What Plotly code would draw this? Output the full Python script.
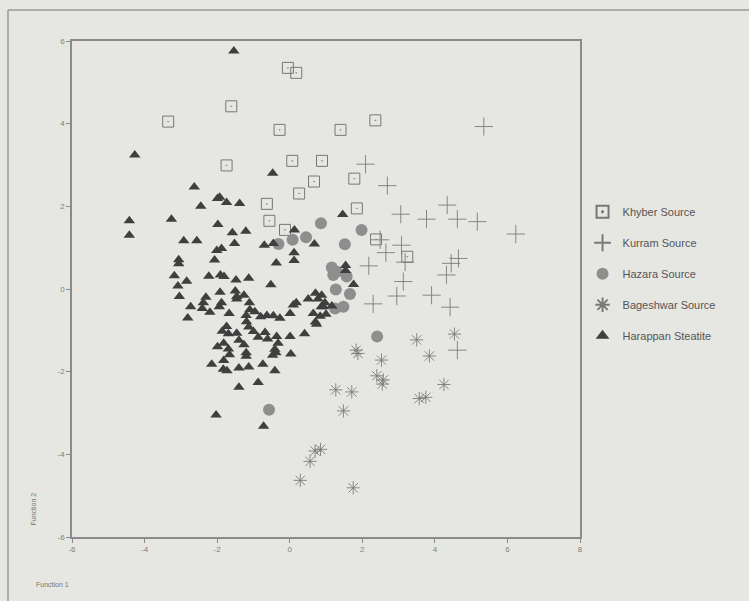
import plotly.graph_objects as go

# ---- data ----
khyber_x = [-0.05, 0.18, -1.61, -3.35, -0.28, 1.40, 2.36, -1.74, 0.07, 0.89, 0.67, 1.78, 0.26, -0.63, 1.85, -0.56, -0.13, 2.38, 3.24]
khyber_y = [5.35, 5.23, 4.42, 4.05, 3.85, 3.85, 4.08, 2.99, 3.10, 3.10, 2.60, 2.67, 2.31, 2.06, 1.95, 1.65, 1.43, 1.20, 0.78]

kurram_x = [5.35, 2.09, 2.69, 4.34, 3.06, 3.77, 4.62, 5.17, 6.23, 2.49, 3.08, 2.65, 3.18, 2.18, 3.13, 2.95, 2.30, 3.91, 4.42, 4.32, 4.45, 4.65, 4.62]
kurram_y = [3.93, 3.02, 2.50, 2.03, 1.81, 1.69, 1.69, 1.63, 1.33, 1.19, 1.06, 0.88, 0.65, 0.56, 0.18, -0.17, -0.36, -0.15, -0.44, 0.34, 0.62, 0.74, -1.48]

hazara_x = [0.86, 1.98, 1.52, 0.45, 0.08, -0.31, 1.16, 1.20, 1.57, 1.27, 1.66, 1.48, 1.25, 2.41, -0.57, 1.30]
hazara_y = [1.59, 1.43, 1.08, 1.25, 1.19, 1.09, 0.52, 0.34, 0.30, -0.01, -0.12, -0.43, -0.47, -1.15, -2.92, 0.42]

bageshwar_x = [1.83, 1.88, 2.53, 3.50, 3.85, 4.54, 2.40, 2.58, 2.55, 1.27, 1.71, 1.48, 3.57, 3.75, 4.25, 0.70, 0.85, 0.56, 0.29, 1.75]
bageshwar_y = [-1.48, -1.56, -1.72, -1.23, -1.62, -1.09, -2.10, -2.20, -2.30, -2.44, -2.49, -2.95, -2.65, -2.62, -2.31, -3.92, -3.88, -4.17, -4.63, -4.81]

harappan_x = [-1.54, -4.27, -0.47, -2.63, -2.45, -1.99, -1.93, -1.74, -1.38, -4.42, -4.42, -3.26,
              -1.98, -1.58, -1.21, -2.92, -2.56, -1.52, -2.01, -1.88, -2.07, -3.06, -3.06,
              1.46, 0.13, -0.45, -0.70, 0.68, 0.12, 0.12, -0.37, 1.54, 1.54, 1.76, -0.52,
              -1.13, -1.48, -1.91, -1.81, -2.23, -3.18, -2.84, -3.08, -3.04, -2.73, -2.81,
              -2.31, -2.38, -2.41, -2.20, -1.92, -1.88, -1.94, -1.50, -1.46, -1.46, -1.26,
              -1.11, -1.10, -1.20, -1.67, -0.80, -0.63, -0.45, -0.27, -0.96,
              0.01, 0.10, 0.18, 0.51, 0.71, 0.78, 0.87, 0.97, 0.88, 0.93, 1.16,
              0.65, 0.71, 0.84, 1.00, 0.74, 0.41, 0.01, -0.36, -0.32, -0.41, -0.68, -0.61,
              -0.38, -0.47, 0.03, -0.41, -0.74, -1.74, -1.86, -1.69, -1.46, -1.40,
              -1.13, -1.00, -0.87, -1.19, -1.26, -1.20, -1.20, -1.99, -1.82, -1.69, -1.66,
              -2.15, -1.82, -1.83, -1.73, -1.40, -1.13, -1.40, -0.87, -2.03, -0.72]
harappan_y = [5.76, 3.24, 2.80, 2.47, 2.00, 2.19, 2.22, 2.09, 2.07, 1.65, 1.30, 1.69,
              1.56, 1.36, 1.40, 1.17, 1.17, 1.10, 0.93, 0.98, 0.70, 0.71, 0.61,
              1.80, 1.43, 1.10, 1.06, 1.09, 0.88, 0.69, 0.63, 0.57, 0.45, 0.11, 0.10,
              0.26, 0.22, 0.34, 0.30, 0.31, 0.32, 0.19, 0.07, -0.18, -0.43, -0.70,
              -0.20, -0.33, -0.47, -0.56, -0.08, -0.33, -0.43, -0.05, -0.18, -0.24, -0.15,
              -0.33, -0.50, -0.64, -0.59, -0.67, -0.64, -0.65, -0.71, -0.55,
              -0.59, -0.39, -0.33, -0.24, -0.10, -0.24, -0.43, -0.33, -0.15, -0.43, -0.41,
              -0.59, -0.80, -0.66, -0.61, -0.85, -1.08, -1.15, -1.15, -1.31, -1.46, -1.05, -1.21,
              -1.54, -1.60, -1.57, -1.98, -1.82, -0.91, -1.02, -1.08, -1.07, -1.24,
              -0.92, -1.03, -1.17, -0.79, -1.35, -1.54, -1.63, -1.40, -1.31, -1.45, -1.59,
              -1.82, -1.73, -1.94, -1.98, -1.91, -1.89, -2.38, -2.26, -3.05, -3.32]

x_ticks = [-6, -4, -2, 0, 2, 4, 6, 8]
y_ticks = [-6, -4, -2, 0, 2, 4, 6]

BG = "#e6e6e3"
FONT = "Liberation Sans, Arial, sans-serif"

fig = go.Figure()
fig.add_trace(go.Scatter(x=khyber_x, y=khyber_y, mode="markers", name="Khyber Source",
                         legendgroup="a",
                         marker=dict(symbol="square-open-dot", size=11, color="#777777",
                                     line=dict(width=1, color="#777777"))))
fig.add_trace(go.Scatter(x=kurram_x, y=kurram_y, mode="markers", name="Kurram Source",
                         legendgroup="b",
                         marker=dict(symbol="cross-thin-open", size=13, color="#7a7a7a",
                                     line=dict(width=0.9, color="#7a7a7a"))))
fig.add_trace(go.Scatter(x=hazara_x, y=hazara_y, mode="markers", name="Hazara Source",
                         legendgroup="c",
                         marker=dict(symbol="circle", size=12, color="#8e8e8e",
                                     line=dict(width=0))))
fig.add_trace(go.Scatter(x=bageshwar_x, y=bageshwar_y, mode="markers", name="Bageshwar Source",
                         legendgroup="d",
                         marker=dict(symbol="asterisk-open", size=11, color="#7a7a7a",
                                     line=dict(width=0.9, color="#7a7a7a"))))
fig.add_trace(go.Scatter(x=harappan_x, y=harappan_y, mode="markers", name="Harappan Steatite",
                         legendgroup="e",
                         marker=dict(symbol="triangle-up", size=10, color="#3f3f3f",
                                     line=dict(width=0))))

axis_common = dict(showgrid=False, zeroline=False, showline=True, linecolor="#8a8a8a",
                   linewidth=1.5, mirror=True, ticks="outside", ticklen=4, tickcolor="#8a8a8a",
                   tickfont=dict(size=8, color="#808080", family=FONT))

fig.update_xaxes(range=[-6, 8], tickvals=x_ticks, ticktext=[str(v) for v in x_ticks], **axis_common)
fig.update_yaxes(range=[-6, 6], tickvals=y_ticks, ticktext=[str(v) for v in y_ticks], **axis_common)

fig.update_layout(
    width=749, height=601,
    margin=dict(l=72, r=169, t=41, b=64),
    paper_bgcolor=BG, plot_bgcolor=BG,
    font=dict(family=FONT, color="#5a5a5a"),
    showlegend=True,
    legend=dict(x=1.005, y=0.685, xanchor="left", yanchor="top", bgcolor="rgba(0,0,0,0)",
                font=dict(size=11, color="#555555", family=FONT), tracegroupgap=12,
                itemsizing="constant", itemwidth=30),
    annotations=[
        dict(text="Function 2", xref="paper", yref="paper", x=-0.075, y=0.02, xanchor="center",
             yanchor="bottom", textangle=-90, showarrow=False,
             font=dict(size=7, color="#777777", family=FONT)),
        dict(text="Function 1", xref="paper", yref="paper", x=-0.075, y=-0.095, xanchor="left",
             yanchor="middle", showarrow=False,
             font=dict(size=7, color="#777777", family=FONT)),
    ],
    shapes=[
        dict(type="line", xref="paper", yref="paper", x0=-0.126, x1=1.34, y0=1.0625, y1=1.0625,
             line=dict(color="#9a9a9a", width=1.5)),
        dict(type="line", xref="paper", yref="paper", x0=-0.126, x1=-0.126, y0=-0.13, y1=1.0625,
             line=dict(color="#9a9a9a", width=1.5)),
    ],
)

fig.write_html("out.html", config={"displayModeBar": False},
               post_script="document.body.style.margin='0';document.body.style.background='" + BG + "';")
